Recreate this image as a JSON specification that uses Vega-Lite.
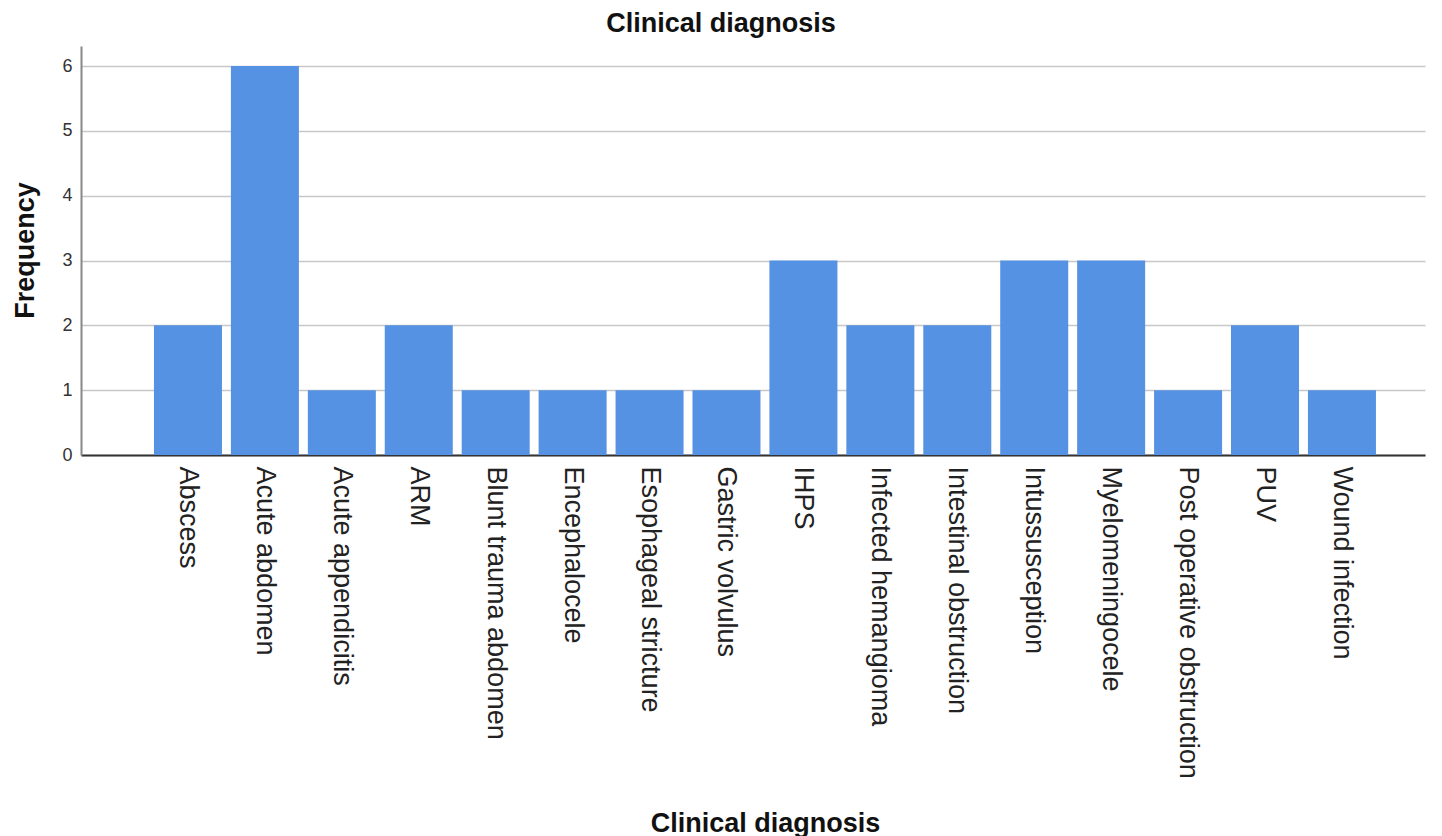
{
  "$schema": "https://vega.github.io/schema/vega-lite/v6.json",
  "autosize": "none",
  "width": 1344,
  "height": 409,
  "padding": {"left": 81, "top": 46, "right": 17, "bottom": 381},
  "background": "white",
  "title": {
    "text": "Clinical diagnosis",
    "font": "Liberation Sans",
    "fontSize": 27,
    "fontWeight": "bold",
    "color": "#111111",
    "anchor": "middle",
    "dx": -32,
    "offset": 8
  },
  "data": {
    "values": [
      {"diagnosis": "Abscess", "frequency": 2},
      {"diagnosis": "Acute abdomen", "frequency": 6},
      {"diagnosis": "Acute appendicitis", "frequency": 1},
      {"diagnosis": "ARM", "frequency": 2},
      {"diagnosis": "Blunt trauma abdomen", "frequency": 1},
      {"diagnosis": "Encephalocele", "frequency": 1},
      {"diagnosis": "Esophageal stricture", "frequency": 1},
      {"diagnosis": "Gastric volvulus", "frequency": 1},
      {"diagnosis": "IHPS", "frequency": 3},
      {"diagnosis": "Infected hemangioma", "frequency": 2},
      {"diagnosis": "Intestinal obstruction", "frequency": 2},
      {"diagnosis": "Intussusception", "frequency": 3},
      {"diagnosis": "Myelomeningocele", "frequency": 3},
      {"diagnosis": "Post operative obstruction", "frequency": 1},
      {"diagnosis": "PUV", "frequency": 2},
      {"diagnosis": "Wound infection", "frequency": 1}
    ]
  },
  "mark": {"type": "bar", "color": "#5592e3"},
  "encoding": {
    "x": {
      "field": "diagnosis",
      "type": "nominal",
      "sort": null,
      "scale": {"paddingInner": 0.116, "paddingOuter": 0.793, "align": 0.598},
      "axis": {
        "title": "Clinical diagnosis",
        "titleFont": "Liberation Sans",
        "titleFontSize": 27,
        "titleFontWeight": "bold",
        "titleColor": "#111111",
        "titleX": 684,
        "titleY": 376,
        "titleBaseline": "alphabetic",
        "titleAnchor": "middle",
        "labelAngle": 90,
        "labelAlign": "left",
        "labelBaseline": "middle",
        "labelFont": "Liberation Sans",
        "labelFontSize": 27,
        "labelColor": "#222222",
        "labelPadding": 11,
        "labelOverlap": false,
        "labelLimit": 0,
        "ticks": false,
        "domainColor": "#333333",
        "domainWidth": 2,
        "grid": false
      }
    },
    "y": {
      "field": "frequency",
      "type": "quantitative",
      "scale": {"domain": [0, 6.31], "nice": false},
      "axis": {
        "title": "Frequency",
        "titleFont": "Liberation Sans",
        "titleFontSize": 27,
        "titleFontWeight": "bold",
        "titleColor": "#111111",
        "titleAngle": -90,
        "titleX": -56,
        "titleY": 204,
        "titleBaseline": "middle",
        "titleAnchor": "middle",
        "values": [0, 1, 2, 3, 4, 5, 6],
        "labelFont": "Liberation Sans",
        "labelFontSize": 18,
        "labelColor": "#333333",
        "labelPadding": 9,
        "ticks": false,
        "domainColor": "#888888",
        "domainWidth": 2,
        "grid": true,
        "gridColor": "#c8c8c8",
        "gridWidth": 1.5
      }
    }
  },
  "config": {"view": {"stroke": null}}
}
